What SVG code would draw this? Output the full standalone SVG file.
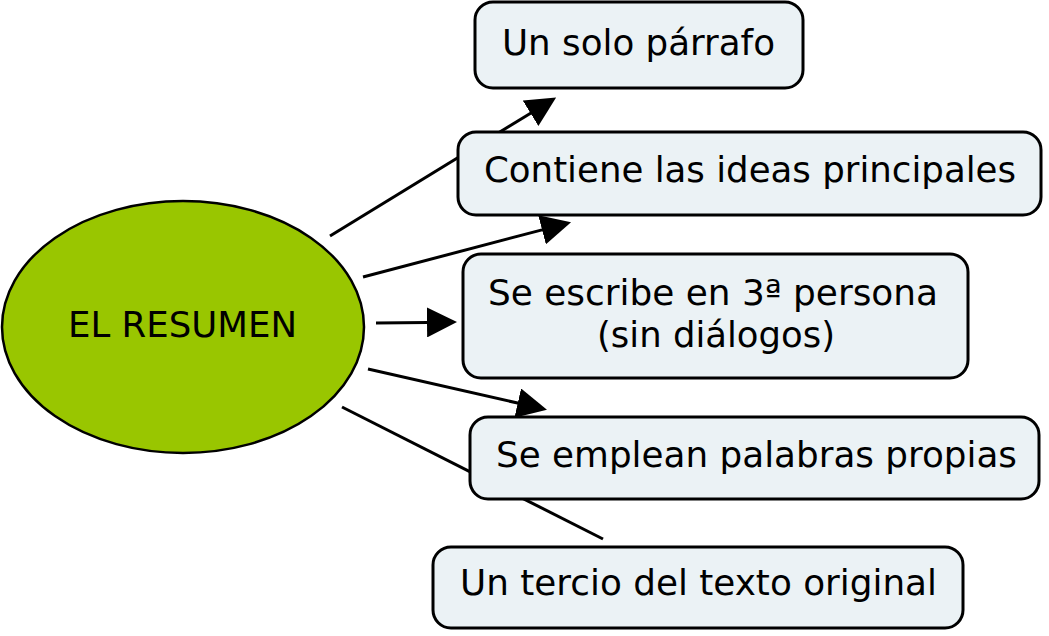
<svg xmlns="http://www.w3.org/2000/svg" width="1049" height="636" viewBox="0 0 1049 636">
<style>
.bg{fill:#ffffff}
.conn line{stroke:#000;stroke-width:3;fill:none}
.box{fill:#ebf2f5;stroke:#000;stroke-width:3}
.main{fill:#99c600;stroke:#000;stroke-width:2.5}
text{font-family:"DejaVu Sans",Verdana,sans-serif;font-size:35px;fill:#000;text-anchor:middle}
</style>
<defs>
<marker id="arr" markerUnits="userSpaceOnUse" markerWidth="32" markerHeight="30" refX="1" refY="15" orient="auto">
<path d="M0,0 L30,15 L0,30 Z" fill="#000"/>
</marker>
</defs>
<rect class="bg" x="0" y="0" width="1049" height="636"/>
<g id="connectors" class="conn">
<line x1="330" y1="236" x2="531.4" y2="112.7" marker-end="url(#arr)"/>
<line x1="363" y1="277" x2="543" y2="229.6" marker-end="url(#arr)"/>
<line x1="376" y1="323" x2="428" y2="322.4" marker-end="url(#arr)"/>
<line x1="368" y1="369" x2="518.7" y2="403.3" marker-end="url(#arr)"/>
<line x1="342" y1="407" x2="603" y2="539"/>
</g>
<g id="node-resumen">
<ellipse class="main" cx="183" cy="327" rx="181" ry="126"/>
<text x="182.5" y="337" textLength="229" lengthAdjust="spacingAndGlyphs">EL RESUMEN</text>
</g>
<g id="node-parrafo">
<rect class="box" x="475" y="2" width="328" height="86" rx="18"/>
<text x="638.5" y="55" textLength="273" lengthAdjust="spacingAndGlyphs">Un solo párrafo</text>
</g>
<g id="node-ideas">
<rect class="box" x="458" y="132" width="583" height="83" rx="18"/>
<text x="750" y="182" textLength="532" lengthAdjust="spacingAndGlyphs">Contiene las ideas principales</text>
</g>
<g id="node-persona">
<rect class="box" x="463" y="254" width="505" height="124" rx="18"/>
<text x="713" y="305" textLength="450" lengthAdjust="spacingAndGlyphs">Se escribe en 3ª persona</text>
<text x="716" y="347" textLength="238" lengthAdjust="spacingAndGlyphs">(sin diálogos)</text>
</g>
<g id="node-palabras">
<rect class="box" x="470" y="417" width="569" height="82" rx="18"/>
<text x="756.5" y="467" textLength="521" lengthAdjust="spacingAndGlyphs">Se emplean palabras propias</text>
</g>
<g id="node-tercio">
<rect class="box" x="433" y="547" width="530" height="81" rx="18"/>
<text x="698.5" y="595" textLength="477" lengthAdjust="spacingAndGlyphs">Un tercio del texto original</text>
</g>
</svg>
